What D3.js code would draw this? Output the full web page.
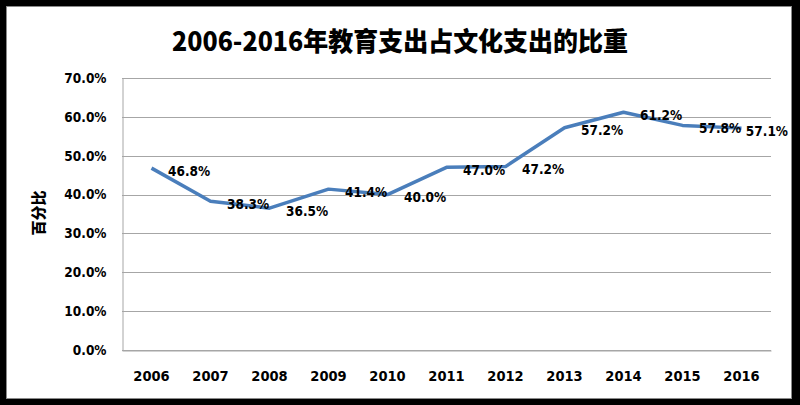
<!DOCTYPE html>
<html>
<head>
<meta charset="utf-8">
<script src="https://cdn.jsdelivr.net/npm/d3@7"></script>
<style>
html,body{margin:0;padding:0;background:#000;}
svg{display:block;}
</style>
</head>
<body>
<svg id="chart" width="800" height="405"></svg>
<script>
const title = "2006-2016年教育支出占文化支出的比重";
const yTitle = "百分比";
const years = ["2006","2007","2008","2009","2010","2011","2012","2013","2014","2015","2016"];
const shares = [46.8, 38.3, 36.5, 41.4, 40.0, 47.0, 47.2, 57.2, 61.2, 57.8, 57.1];
const yTicks = [0, 10, 20, 30, 40, 50, 60, 70];

const svg = d3.select("#chart");
const W = 800, H = 405;
const m = {left:122, right:29, top:78, bottom:55};
const pw = W - m.left - m.right, ph = H - m.top - m.bottom;
const labelMaxRight = 788;

svg.append("rect").attr("x",0).attr("y",0).attr("width",W).attr("height",H).attr("fill","#000");
svg.append("rect").attr("x",6.5).attr("y",6.5).attr("width",785).attr("height",392)
  .attr("fill","#fff").attr("stroke","#8a8a8a").attr("stroke-width",1);

const x = d3.scaleBand().domain(years).range([m.left, m.left+pw]);
const y = d3.scaleLinear().domain([0,70]).range([m.top+ph, m.top]);

const lblFont = "'DejaVu Sans Condensed','DejaVu Sans',sans-serif";

// gridlines
svg.append("g").selectAll("line").data(yTicks).join("line")
  .attr("x1", m.left).attr("x2", m.left+pw)
  .attr("y1", d=>Math.round(y(d))+0.5).attr("y2", d=>Math.round(y(d))+0.5)
  .attr("stroke","#a6a6a6").attr("stroke-width",1);

// left axis
const yAxis = d3.axisLeft(y).tickValues(yTicks).tickSize(0).tickPadding(16)
  .tickFormat(d=>d.toFixed(1)+"%");
const gy = svg.append("g").attr("transform",`translate(${m.left+0.5},0)`).call(yAxis);
gy.select(".domain").attr("stroke","#a6a6a6");
gy.selectAll("text").attr("font-family",lblFont).attr("font-weight","bold")
  .attr("font-size","13.5px").attr("fill","#000");

// bottom axis
const xAxis = d3.axisBottom(x).tickSize(0).tickPadding(20);
const gx = svg.append("g").attr("transform",`translate(0,${m.top+ph+0.5})`).call(xAxis);
gx.select(".domain").attr("stroke","#a6a6a6");
gx.selectAll("text").attr("font-family",lblFont).attr("font-weight","bold")
  .attr("font-size","14.5px").attr("fill","#000");

// line
const line = d3.line().x((d,i)=>x(years[i])+x.bandwidth()/2).y(d=>y(d));
svg.append("path").datum(shares).attr("d",line).attr("fill","none")
  .attr("stroke","#4a7ebb").attr("stroke-width",3.5).attr("stroke-linejoin","round");

// data labels
svg.append("g").selectAll("text").data(shares).join("text")
  .attr("x",(d,i)=>x(years[i])+x.bandwidth()/2+16.5)
  .attr("y",d=>y(d)+2.5)
  .attr("dominant-baseline","central")
  .attr("font-family",lblFont).attr("font-weight","bold").attr("font-size","13.5px")
  .attr("fill","#000")
  .text(d=>d.toFixed(1)+"%")
  .each(function(){
    const bb = this.getBBox();
    if (bb.x + bb.width > labelMaxRight) {
      d3.select(this).attr("x", labelMaxRight - bb.width);
    }
  });

// title
svg.append("text").attr("x",400).attr("y",51).attr("text-anchor","middle")
  .attr("font-family","'Noto Sans CJK SC',sans-serif").attr("font-weight","900")
  .attr("font-size","26px").attr("fill","#000")
  .attr("textLength",456).attr("lengthAdjust","spacingAndGlyphs")
  .text(title);

// y title
svg.append("text").attr("transform","translate(44,213) rotate(-90)")
  .attr("text-anchor","middle")
  .attr("font-family","'Noto Sans CJK SC',sans-serif").attr("font-weight","900")
  .attr("font-size","15px").attr("fill","#000")
  .text(yTitle);
</script>
</body>
</html>
